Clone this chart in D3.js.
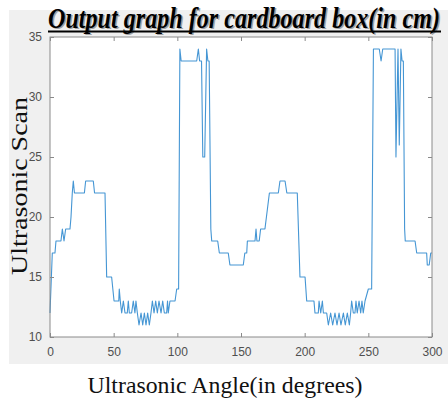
<!DOCTYPE html>
<html>
<head>
<meta charset="utf-8">
<script src="https://cdn.jsdelivr.net/npm/d3@7"></script>
<style>
  body { margin: 0; background: #ffffff; }
  svg { display: block; }
</style>
</head>
<body>
<div id="container"></div>
<script>

var W = 448, H = 400;

var margin = {top: 37, right: 16, bottom: 63, left: 50};

var width = W - margin.left - margin.right;

var height = H - margin.top - margin.bottom;

//  readings: polyline vertices (angle in degrees, scan in cm)

var angles = [0, 1.8, 3.9, 4.7, 8.6, 9.7, 11, 12.3, 15.7, 16.5, 17.5, 18.3, 19.2, 27, 28, 34, 35, 43.2, 44.5, 48.4,
    50.3, 54, 54.4, 55.2, 56.3, 57.6, 58.9, 60.7, 61.5, 62.3, 64.1, 65.4, 66.7, 67.5, 68.6, 69.9, 71.5, 72.8, 74.1, 75.4,
    76.7, 78, 79.3, 80.4, 81.7, 83, 84.3, 85.6, 87.2, 88.5, 89.8, 91.6, 92.3, 92.9, 94.2, 98.2, 99.5, 101, 102, 103,
    115.2, 116.5, 117.5, 119, 120, 121.5, 123, 124, 125, 126.3, 127, 131.7, 133, 140, 141.3, 151.8, 153, 154.5, 155, 161,
    161.8, 162.5, 164.3, 165.4, 168.8, 172.3, 179.3, 180.6, 184.6, 186, 194.2, 196.3, 200.3, 201.6, 207.3, 208.1, 210.7, 211.3, 212.6, 213.9,
    214.7, 217.3, 218.6, 220.4, 222, 223.8, 225.4, 227, 228.5, 230.4, 231.9, 233.5, 235.1, 236.1, 236.9, 238.2, 239.5, 240.3, 241.3, 242.7,
    244, 245, 246, 247.4, 250, 252.6, 254, 258.6, 260, 261.3, 271, 271.7, 273.3, 274.3, 275.6, 276.5, 277.5, 278.5, 279, 286.7,
    288, 295.8, 296.3, 297.8, 299, 300];

var scans = [12, 17, 17, 18, 18, 19, 18, 19, 19, 20, 22, 23, 22, 22, 23, 23, 22, 22, 15, 15,
    13, 13, 14, 13, 12, 13, 12, 12, 13, 12, 12, 13, 12, 13, 12, 11, 12, 11, 12, 11,
    12, 11, 12, 13, 12, 13, 12, 13, 12, 13, 12, 12, 13, 12, 13, 13, 14, 14, 34, 33,
    33, 34, 33, 33, 25, 25, 34, 33, 33, 19, 18, 18, 17, 17, 16, 16, 17, 17, 18, 18,
    19, 18, 18, 19, 19, 22, 22, 23, 23, 22, 22, 15, 15, 13, 13, 12, 12, 13, 12, 13,
    12, 12, 11, 12, 11, 12, 11, 12, 11, 12, 11, 12, 11, 12, 13, 12, 12, 13, 12, 13,
    12, 13, 12, 13, 14, 14, 34, 34, 33, 34, 34, 25, 34, 26, 34, 33, 33, 19, 18, 18,
    17, 17, 16, 16, 17, 17];

var xTicks = [0, 50, 100, 150, 200, 250, 300];

var yTicks = [10, 15, 20, 25, 30, 35];

var titleText = "Output graph for cardboard box(in cm)";
var xLabel = "Ultrasonic Angle(in degrees)";
var yLabel = "Ultrasonic Scan";

var lineColor = "#4596d4";
var axisColor = "#8a8a8a";
var tickTextColor = "#4f4f4f";

var data = angles.map(function(a, i) { return {angle: a, scan: scans[i]}; });

var x = d3.scaleLinear().domain([0, 300]).range([0, width]);

var y = d3.scaleLinear().domain([10, 35]).range([height, 0]);

var svg = d3.select("#container")
    .append("svg")
    .attr("width", W)
    .attr("height", H);

//  matlab figure panel
svg.append("rect")
    .attr("x", 9).attr("y", 10)
    .attr("width", W - 9).attr("height", 354)
    .attr("fill", "#f0f0f0");

var g = svg.append("g")
    .attr("transform", "translate(" + margin.left + "," + margin.top + ")");

g.append("rect")
    .attr("width", width).attr("height", height)
    .attr("fill", "#ffffff");

g.append("path")
    .datum(data)
    .attr("fill", "none")
    .attr("stroke", lineColor)
    .attr("stroke-width", 1.1)
    .attr("stroke-linejoin", "round")
    .attr("d", d3.line()
        .x(function(d) { return x(d.angle); })
        .y(function(d) { return y(d.scan); }));

//  axes, ticks pointing inward like matlab
function styleAxis(sel) {
    sel.select(".domain").remove();
    sel.selectAll("line").attr("stroke", axisColor);
    sel.selectAll("text")
        .attr("fill", tickTextColor)
        .style("font-family", "'Liberation Sans', Arial, sans-serif")
        .style("font-size", "12px");
}

g.append("g")
    .attr("transform", "translate(0," + height + ")")
    .call(d3.axisBottom(x).tickValues(xTicks).tickSizeInner(-4).tickSizeOuter(0).tickPadding(10))
    .call(styleAxis);

g.append("g")
    .call(d3.axisTop(x).tickValues(xTicks).tickSizeInner(-4).tickSizeOuter(0).tickFormat(""))
    .call(styleAxis);

g.append("g")
    .call(d3.axisLeft(y).tickValues(yTicks).tickSizeInner(-4).tickSizeOuter(0).tickPadding(8))
    .call(styleAxis);

g.append("g")
    .attr("transform", "translate(" + width + ",0)")
    .call(d3.axisRight(y).tickValues(yTicks).tickSizeInner(-4).tickSizeOuter(0).tickFormat(""))
    .call(styleAxis);

g.append("rect")
    .attr("width", width).attr("height", height)
    .attr("fill", "none")
    .attr("stroke", axisColor)
    .attr("stroke-width", 1);

//  title with a soft shadow and underline
var titleX = 244;

function fitText(sel, target) {
    var len = sel.node().getComputedTextLength();
    var fs = parseFloat(sel.style("font-size"));
    sel.style("font-size", (fs * target / len) + "px");
}

var titleShadow = svg.append("text")
    .attr("transform", "translate(" + (titleX + 1.5) + ",28.5) scale(1,1.2)")
    .attr("text-anchor", "middle")
    .attr("fill", "#a0a0a0")
    .style("font-family", "'Liberation Serif', 'Times New Roman', serif")
    .style("font-weight", "bold").style("font-style", "italic")
    .style("font-size", "24px")
    .text(titleText);
fitText(titleShadow, 392);

var title = svg.append("text")
    .attr("transform", "translate(" + titleX + ",27.5) scale(1,1.2)")
    .attr("text-anchor", "middle")
    .attr("fill", "#000")
    .style("font-family", "'Liberation Serif', 'Times New Roman', serif")
    .style("font-weight", "bold").style("font-style", "italic")
    .style("font-size", "24px")
    .text(titleText);
fitText(title, 392);

svg.append("line")
    .attr("x1", 48).attr("x2", 441)
    .attr("y1", 31.5).attr("y2", 31.5)
    .attr("stroke", "#000").attr("stroke-width", 2);

//  axis labels
var xl = svg.append("text")
    .attr("x", 225).attr("y", 393)
    .attr("text-anchor", "middle")
    .attr("fill", "#111")
    .style("font-family", "'Liberation Serif', 'Times New Roman', serif")
    .style("font-size", "24px")
    .text(xLabel);
fitText(xl, 275);

var yl = svg.append("text")
    .attr("transform", "translate(27,186) rotate(-90) scale(1,0.85)")
    .attr("text-anchor", "middle")
    .attr("fill", "#111")
    .style("font-family", "'Liberation Serif', 'Times New Roman', serif")
    .style("font-size", "24px")
    .text(yLabel);
fitText(yl, 178);

</script>
</body>
</html>
